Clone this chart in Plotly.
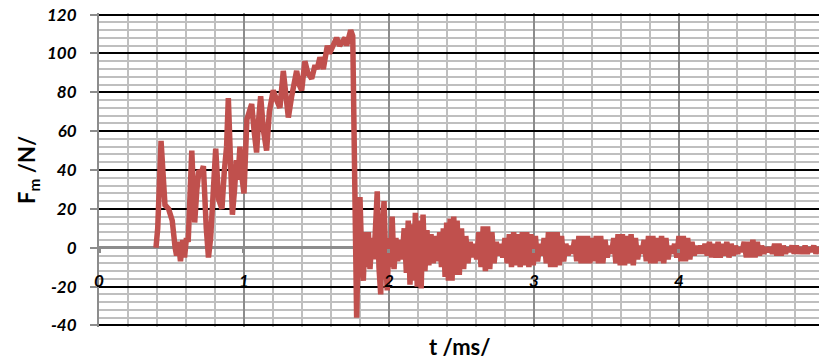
import plotly.graph_objects as go

# ---- data (t in ms, F_m in N) ----
time_rise = [0.393, 0.405, 0.428, 0.438, 0.455, 0.480, 0.505, 0.525, 0.535, 0.548,
             0.562, 0.578, 0.590, 0.603, 0.615, 0.640, 0.660, 0.675, 0.690, 0.705,
             0.720, 0.740, 0.755, 0.770, 0.790, 0.805, 0.825, 0.848, 0.865, 0.880,
             0.892, 0.905, 0.920, 0.935, 0.948, 0.958, 0.972, 0.988, 1.000, 1.020,
             1.035, 1.053, 1.070, 1.087, 1.100, 1.115, 1.135, 1.156, 1.175, 1.190,
             1.202, 1.225, 1.248, 1.271, 1.290, 1.306, 1.329, 1.345, 1.363, 1.380,
             1.398, 1.420, 1.440, 1.467, 1.490, 1.505, 1.524, 1.547, 1.575, 1.590,
             1.605, 1.625, 1.639, 1.660, 1.680, 1.697, 1.708, 1.720, 1.736, 1.750,
             1.762]
force_rise = [0, 10, 55, 40, 22, 20, 14, 0, -4, 3,
              -7, 4, -5, 5, 3, 50, 13, 30, 40, 38,
              42, 10, -5, 5, 35, 51, 25, 20, 40, 52,
              77, 45, 17, 30, 45, 35, 52, 35, 28, 66,
              70, 74, 60, 49, 65, 78, 60, 50, 70, 76,
              81, 76, 72, 91, 75, 67, 78, 86, 91, 84,
              81, 96, 90, 87, 94, 92, 98, 92, 104, 100,
              102, 105, 108, 104, 107, 108, 104, 108, 112, 109,
              50]

time_drop = [1.777, 1.790, 1.800, 1.812, 1.823, 1.835, 1.846, 1.858, 1.869, 1.882,
             1.895, 1.907, 1.919, 1.931, 1.943, 1.955, 1.966, 1.977, 1.988, 2.000,
             2.012, 2.022, 2.035, 2.048, 2.060, 2.075, 2.090, 2.105, 2.120, 2.133,
             2.145, 2.158, 2.170, 2.182, 2.195, 2.210, 2.222, 2.235, 2.248, 2.262,
             2.275, 2.290, 2.305, 2.320, 2.335, 2.350, 2.362, 2.375, 2.387, 2.398,
             2.410, 2.422, 2.435, 2.447, 2.458]
force_drop = [-36, 10, 26, -5, -17, 8, -10, 8, -11, 5,
              -6, 10, 29, -10, -24, 10, 24, -5, -22, 5,
              -10, 16, -11, 5, -7, 4, -6, 10, -13, 14,
              -19, 12, -17, 18, -20, 14, -21, 17, -12, 9,
              -9, 7, -8, 6, -7, 8, -10, 10, -15, 13,
              -17, 15, -17, 16, -14]

time_ring = [2.470, 2.485, 2.500, 2.515, 2.530, 2.545, 2.560, 2.575, 2.590, 2.605,
             2.620, 2.635, 2.650, 2.665, 2.680, 2.695, 2.710, 2.725, 2.740, 2.755,
             2.770, 2.785, 2.800, 2.815, 2.830, 2.845, 2.860, 2.875, 2.890, 2.905,
             2.920, 2.935, 2.950, 2.965, 2.980, 2.995, 3.010, 3.025, 3.040, 3.055,
             3.070, 3.085, 3.100, 3.115, 3.130, 3.145, 3.160, 3.175, 3.190, 3.205,
             3.220, 3.235, 3.250, 3.265, 3.280, 3.295, 3.310, 3.325, 3.340, 3.355,
             3.370, 3.385, 3.400, 3.415, 3.430, 3.445, 3.460, 3.475, 3.490, 3.505,
             3.520, 3.535, 3.550, 3.565, 3.580, 3.595, 3.610, 3.625, 3.640, 3.655,
             3.670, 3.685, 3.700, 3.715, 3.730, 3.745, 3.760, 3.775, 3.790, 3.805,
             3.820, 3.835, 3.850, 3.865, 3.880, 3.895, 3.910, 3.925, 3.940, 3.955,
             3.970, 3.985, 4.000, 4.015, 4.030, 4.045, 4.060, 4.075, 4.090, 4.105,
             4.120, 4.135, 4.150, 4.165, 4.180, 4.195, 4.210, 4.225, 4.240, 4.255,
             4.270, 4.285, 4.300, 4.315, 4.330, 4.345, 4.360, 4.375, 4.390, 4.405,
             4.420, 4.435, 4.450, 4.465, 4.480, 4.495, 4.510, 4.525, 4.540, 4.555,
             4.570, 4.585, 4.600, 4.615, 4.630, 4.645, 4.660, 4.675, 4.690, 4.705,
             4.720, 4.735, 4.750, 4.765, 4.780, 4.795, 4.810, 4.825, 4.840, 4.855,
             4.870, 4.885, 4.900, 4.915, 4.930, 4.945, 4.960, 4.975]
force_ring = [14, -14, 10, -11, 6, -8, 3, -5, 2, -6,
              8, -10, 11, -12, 11, -11, 8, -8, 3, -4,
              2, -5, 5, -8, 7, -10, 8, -9, 7, -10,
              8, -9, 8, -10, 7, -9, 6, -7, 2, -4,
              5, -8, 8, -10, 8, -10, 8, -9, 6, -7,
              2, -4, 1, -3, 4, -7, 6, -8, 6, -8,
              6, -8, 5, -7, 6, -8, 6, -8, 4, -5,
              1, -3, 5, -8, 7, -9, 7, -9, 6, -8,
              7, -9, 5, -6, 1, -3, 4, -7, 6, -8,
              6, -8, 5, -7, 6, -8, 5, -6, 1, -3,
              2, -5, 6, -7, 6, -7, 5, -6, 3, -4,
              1, -3, 1, -3, 2, -4, 3, -5, 2, -5,
              3, -5, 2, -4, 3, -5, 2, -4, 1, -3,
              0, -2, 3, -5, 3, -5, 4, -5, 3, -4,
              1, -3, 0, -2, 0, -3, 2, -4, 2, -4,
              1, -3, 0, -2, 1, -3, 1, -3, 0, -3,
              1, -3, 0, -2, 1, -3, 0, -2]

x_ticks = [0, 1, 2, 3, 4]
y_ticks = [-40, -20, 0, 20, 40, 60, 80, 100, 120]

assert len(time_rise) == len(force_rise)
assert len(time_drop) == len(force_drop)
assert len(time_ring) == len(force_ring)

time_ms = time_rise + time_drop + time_ring
force_N = force_rise + force_drop + force_ring

RED = "#C0504D"
GRID_MINOR = "#BFBFBF"
GRID_MAJOR_X = "#8C8C8C"
AXIS_GREY = "#8C8C8C"
FONT = "Lato, 'Open Sans', sans-serif"

fig = go.Figure()
fig.add_trace(go.Scatter(
    x=time_ms, y=force_N, mode="lines",
    line=dict(color=RED, width=5.5),
    hoverinfo="skip", showlegend=False,
))

fig.update_layout(
    width=819, height=363, autosize=False,
    margin=dict(l=99, r=0, t=13, b=36),
    paper_bgcolor="white", plot_bgcolor="white",
    showlegend=False,
    xaxis=dict(
        range=[0, 4.966],
        tickvals=x_ticks, ticktext=[str(v) for v in x_ticks],
        anchor="free", position=40.8 / 161.6,
        showline=False, zeroline=False,
        showgrid=True, gridcolor=GRID_MAJOR_X, gridwidth=2,
        minor=dict(dtick=0.2, showgrid=True, gridcolor=GRID_MINOR, gridwidth=2),
        ticks="outside", ticklen=4, tickwidth=3, tickcolor=AXIS_GREY,
        ticklabelstandoff=14,
        tickfont=dict(family=FONT, size=17, color="black", style="italic", weight="bold"),
    ),
    yaxis=dict(
        range=[-40.8, 120.8],
        tickvals=y_ticks, ticktext=[str(v) for v in y_ticks],
        showline=True, linecolor=AXIS_GREY, linewidth=2,
        zeroline=True, zerolinecolor=AXIS_GREY, zerolinewidth=3,
        showgrid=True, gridcolor="black", gridwidth=2,
        minor=dict(dtick=4, showgrid=True, gridcolor=GRID_MINOR, gridwidth=2),
        ticks="outside", ticklen=7, tickwidth=2, tickcolor=AXIS_GREY,
        ticklabelstandoff=10,
        tickfont=dict(family=FONT, size=17, color="black", style="italic", weight="bold"),
    ),
    annotations=[
        dict(text="<b>t /ms/</b>", xref="paper", yref="paper", x=0.5, y=-0.061,
             xanchor="center", yanchor="middle", showarrow=False,
             font=dict(family=FONT, size=22, color="black")),
        dict(text="<b>F<sub>m</sub> /N/</b>", xref="paper", yref="paper", x=-0.0986, y=0.5,
             xanchor="center", yanchor="middle", showarrow=False, textangle=-90,
             font=dict(family=FONT, size=22, color="black")),
    ],
)

fig.write_html("out.html", config={"displayModeBar": False},
               post_script="document.body.style.margin='0';")
